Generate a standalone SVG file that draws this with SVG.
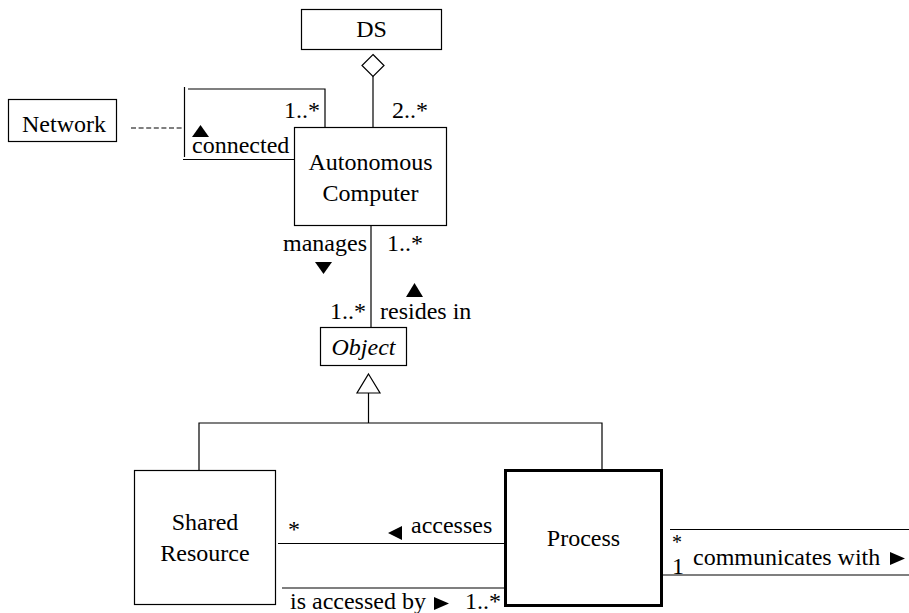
<svg xmlns="http://www.w3.org/2000/svg" width="909" height="613" viewBox="0 0 909 613">
  <style>
    .box { fill: #fff; stroke: #000; stroke-width: 1.2; }
    .bold { fill: #fff; stroke: #000; stroke-width: 3; }
    .ln { fill: none; stroke: #000; stroke-width: 1.2; }
    .dash { fill: none; stroke: #000; stroke-width: 1.2; stroke-dasharray: 5 2.6; }
    .arr { fill: #000; stroke: none; }
    .c { text-anchor: middle; }
    .it { font-style: italic; }
  </style>
  <rect width="909" height="613" fill="#fff"/>

  <g font-family="'Liberation Serif', 'DejaVu Serif', serif" font-size="24" fill="#000">
  <!-- connectors -->
  <g id="connectors">
    <!-- aggregation DS <> Autonomous Computer -->
    <line class="ln" x1="373" y1="76" x2="373" y2="127"/>
    <polygon class="box" points="373,54.5 384,65.5 373,76.5 362,65.5"/>
    <!-- self association "connected" -->
    <polyline class="ln" points="184.5,87 184.5,157"/>
    <polyline class="ln" points="188,89 325,89 325,127"/>
    <line class="ln" x1="183" y1="159.5" x2="294" y2="159.5"/>
    <!-- association class link to Network -->
    <line class="dash" x1="131" y1="128" x2="184" y2="128"/>
    <!-- manages / resides in -->
    <line class="ln" x1="371" y1="226" x2="371" y2="327"/>
    <!-- generalisation -->
    <polygon class="box" points="368.5,374 380,393 357,393"/>
    <polyline class="ln" points="368.5,393 368.5,423"/>
    <polyline class="ln" points="199,470 199,423 602,423 602,469"/>
    <!-- accesses -->
    <line class="ln" x1="278" y1="543.5" x2="504" y2="543.5"/>
    <!-- is accessed by -->
    <line class="ln" x1="282" y1="588" x2="504" y2="588"/>
    <!-- communicates with -->
    <line class="ln" x1="670" y1="529.5" x2="909" y2="529.5"/>
    <line class="ln" x1="663" y1="575" x2="909" y2="575"/>

    <!-- role and multiplicity labels -->
    <text x="284" y="118">1..*</text>
    <text x="392" y="118">2..*</text>
    <polygon class="arr" points="192,137 209,137 200.5,125"/>
    <text x="192" y="153">connected</text>
    <text x="283" y="251">manages</text>
    <text x="387" y="251">1..*</text>
    <polygon class="arr" points="315,262 332,262 323.5,274"/>
    <polygon class="arr" points="406,297 423,297 414.5,283"/>
    <text x="330" y="319">1..*</text>
    <text x="380" y="319">resides in</text>
    <text x="288" y="537">*</text>
    <polygon class="arr" points="388,533 402,526 402,540"/>
    <text x="411" y="533">accesses</text>
    <text x="290" y="609">is accessed by</text>
    <polygon class="arr" points="434,597 434,610 449,603.5"/>
    <text x="465" y="609">1..*</text>
    <text x="672" y="549" font-size="20">*</text>
    <text x="672" y="574">1</text>
    <text x="693" y="565">communicates with</text>
    <polygon class="arr" points="890,552 890,565 905,558.5"/>
  </g>

  <g id="ds">
    <rect class="box" x="301.5" y="9.5" width="140" height="40"/>
    <text class="c" x="371.5" y="37">DS</text>
  </g>

  <g id="network">
    <rect class="box" x="8.5" y="99.5" width="108" height="42"/>
    <text x="22" y="132">Network</text>
  </g>

  <g id="autonomous-computer">
    <rect class="box" x="294.5" y="127.5" width="152" height="98"/>
    <text class="c" x="370.5" y="170">Autonomous</text>
    <text class="c" x="370.5" y="201">Computer</text>
  </g>

  <g id="object">
    <rect class="box" x="320.5" y="327.5" width="86" height="38"/>
    <text class="c it" x="363.5" y="355">Object</text>
  </g>

  <g id="shared-resource">
    <rect class="box" x="134.5" y="470.5" width="141" height="134"/>
    <text class="c" x="205" y="530">Shared</text>
    <text class="c" x="205" y="561">Resource</text>
  </g>

  <g id="process">
    <rect class="bold" x="505.5" y="470.5" width="156" height="135"/>
    <text class="c" x="583.5" y="546">Process</text>
  </g>
  </g>
</svg>
